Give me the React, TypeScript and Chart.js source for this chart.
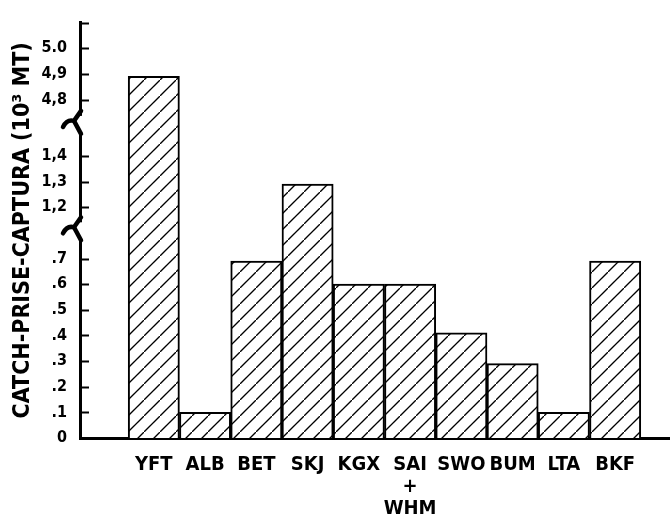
import React, { useEffect, useRef } from "react";
import { Chart, registerables } from "chart.js";

Chart.register(...registerables);

const categories = ["YFT", "ALB", "BET", "SKJ", "KGX", "SAI+WHM", "SWO", "BUM", "LTA", "BKF"];
const xTickLabels: (string | string[])[] = ["YFT", "ALB", "BET", "SKJ", "KGX", ["SAI", "+", "WHM"], "SWO", "BUM", "LTA", "BKF"];
const catchValues = [4.89, 0.1, 0.69, 1.29, 0.6, 0.6, 0.41, 0.29, 0.1, 0.69];
const yTickValues = [0, 0.1, 0.2, 0.3, 0.4, 0.5, 0.6, 0.7, 1.2, 1.3, 1.4, 4.8, 4.9, 5.0];
const yTickLabels = ["0", ".1", ".2", ".3", ".4", ".5", ".6", ".7", "1,2", "1,3", "1,4", "4,8", "4,9", "5.0"];
const yTitle = "CATCH-PRISE-CAPTURA (10\u00B3 MT)";

// broken axis: map real values onto a compressed display scale
function toDisplay(v: number): number {
  if (v <= 0.7) return v * 10;
  if (v <= 1.4) return 9 + (v - 1.2) * 10;
  return 13.2 + (v - 4.8) * 10;
}
const breakPositions = [8.1, 12.25];
const FONT = "'Liberation Sans Narrow', 'DejaVu Sans Condensed', 'Arial Narrow', sans-serif";

function makeHatch(): CanvasPattern | string {
  const c = document.createElement("canvas");
  const s = 16;
  c.width = s;
  c.height = s;
  const g = c.getContext("2d");
  if (!g) return "white";
  g.fillStyle = "white";
  g.fillRect(0, 0, s, s);
  g.strokeStyle = "black";
  g.lineWidth = 1.3;
  g.beginPath();
  g.moveTo(-2, s + 2);
  g.lineTo(s + 2, -2);
  g.stroke();
  const ctx = document.createElement("canvas").getContext("2d");
  return (ctx as CanvasRenderingContext2D).createPattern(c, "repeat") as CanvasPattern;
}

const axisDecor = {
  id: "axisDecor",
  afterDraw(chart: any) {
    const { ctx, chartArea, scales } = chart;
    const y = scales.y;
    const x0 = chartArea.left;
    ctx.save();
    ctx.strokeStyle = "black";
    ctx.lineWidth = 2;
    // inside ticks
    const tickVals = yTickValues.map(toDisplay).concat([16.2]);
    tickVals.forEach((d: number) => {
      const py = Math.round(y.getPixelForValue(d)) + 0.5;
      ctx.beginPath();
      ctx.moveTo(x0, py);
      ctx.lineTo(x0 + 9, py);
      ctx.stroke();
    });
    // breaks
    breakPositions.forEach((d) => {
      const py = y.getPixelForValue(d);
      ctx.fillStyle = "white";
      ctx.fillRect(x0 - 3, py - 8, 6, 16);
      ctx.strokeStyle = "black";
      ctx.lineWidth = 4.5;
      ctx.lineCap = "round";
      ctx.lineJoin = "round";
      ctx.beginPath();
      ctx.moveTo(x0 - 17, py + 3);
      ctx.quadraticCurveTo(x0 - 13, py - 5, x0 - 6, py - 3);
      ctx.lineTo(x0 + 1, py + 10);
      ctx.stroke();
      ctx.beginPath();
      ctx.moveTo(x0 - 6, py - 3);
      ctx.lineTo(x0 + 1, py - 13);
      ctx.stroke();
    });
    ctx.restore();
  },
};

export default function App() {
  const ref = useRef<HTMLCanvasElement>(null);
  useEffect(() => {
    document.body.style.margin = "0";
    const canvas = ref.current;
    if (!canvas) return;
    const hatch = makeHatch();
    const chart = new Chart(canvas, {
      type: "bar",
      data: {
        datasets: [
          {
            label: "Catch",
            data: catchValues.map((v, i) => ({ x: i, y: toDisplay(v) })),
            backgroundColor: hatch as any,
            borderColor: "black",
            borderWidth: 2,
            barPercentage: 1,
            categoryPercentage: 1,
          },
        ],
      },
      options: {
        animation: false,
        responsive: false,
        events: [],
        layout: { padding: { top: 20, right: 0, left: 0, bottom: 0 } },
        plugins: { legend: { display: false }, tooltip: { enabled: false } },
        scales: {
          x: {
            type: "linear",
            offset: false,
            min: -1.44,
            max: 10.07,
            grid: { display: false, drawTicks: false, offset: false },
            border: { display: true, color: "black", width: 3 },
            afterBuildTicks: (s: any) => {
              s.ticks = categories.map((_, i) => ({ value: i }));
            },
            afterFit: (s: any) => {
              s.height = 80;
            },
            ticks: {
              autoSkip: false,
              maxRotation: 0,
              padding: 16,
              color: "black",
              font: { family: FONT, size: 20, weight: "bold", lineHeight: 1.1 },
              callback: (_v: any, i: number) => xTickLabels[i],
            },
          },
          y: {
            type: "linear",
            min: 0,
            max: 16.2,
            grid: { display: false, drawTicks: false },
            border: { display: true, color: "black", width: 3 },
            afterBuildTicks: (s: any) => {
              s.ticks = yTickValues.map((v) => ({ value: toDisplay(v) }));
            },
            afterFit: (s: any) => {
              s.width = 80;
            },
            ticks: {
              autoSkip: false,
              padding: 13,
              color: "black",
              font: { family: FONT, size: 16, weight: "bold" },
              callback: (_v: any, i: number) => yTickLabels[i],
            },
            title: {
              display: true,
              text: yTitle,
              color: "black",
              padding: { top: 9, bottom: 0 },
              font: { family: FONT, size: 23, weight: "bold" },
            },
          },
        },
      },
      plugins: [axisDecor],
    });
    return () => chart.destroy();
  }, []);
  return (
    <div style={{ width: 670, height: 518, background: "white" }}>
      <canvas ref={ref} width={670} height={518} />
    </div>
  );
}
